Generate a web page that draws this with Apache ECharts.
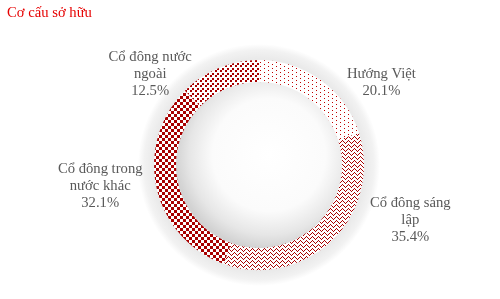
<!DOCTYPE html>
<html><head><meta charset="utf-8">
<script src="https://cdn.jsdelivr.net/npm/echarts@6/dist/echarts.min.js"></script>
<style>html,body{margin:0;padding:0;background:#fff}#c{width:500px;height:299px}</style>
</head><body><div id="c"></div>
<script>
const chartTitle = 'Cơ cấu sở hữu';
const categories = ['Hướng Việt', 'Cổ đông sáng lập', 'Cổ đông trong nước khác', 'Cổ đông nước ngoài'];
const values = [20.1, 35.4, 32.1, 12.5];

const RED = '#a80000';
const FONT = 'Liberation Serif';
const LABEL_SIZE = 14.67;
const labelDx = [1, 13, 11, -2];
const labelDy = [2, -20, -2, 6];

function makePattern(w, h, draw) {
  const c = document.createElement('canvas');
  c.width = w; c.height = h;
  const ctx = c.getContext('2d');
  ctx.fillStyle = '#ffffff'; ctx.fillRect(0, 0, w, h);
  ctx.fillStyle = RED;
  draw(ctx);
  return c;
}
const patDots = makePattern(8, 4, ctx => { ctx.fillStyle = '#c00000'; ctx.fillRect(0, 0, 1, 1); ctx.fillRect(4, 2, 1, 1); });
const patZig = makePattern(6, 4, ctx => { [0, 1, 2, 3, 2, 1].forEach((y, x) => ctx.fillRect(x, y, 1, 1)); });
const patBigChk = makePattern(6, 6, ctx => { ctx.fillRect(0, 0, 3, 3); ctx.fillRect(3, 3, 3, 3); });
const patSmallChk = makePattern(5, 5, ctx => { ctx.fillRect(0, 0, 2, 2); ctx.fillRect(2, 3, 2, 2); });
const patterns = [patDots, patZig, patBigChk, patSmallChk];

const measure = document.createElement('canvas').getContext('2d');
measure.font = LABEL_SIZE + 'px "' + FONT + '"';
function wrap(text, maxW) {
  const words = text.split(' ');
  const lines = [];
  let cur = '';
  words.forEach(w => {
    const t = cur ? cur + ' ' + w : w;
    if (cur && measure.measureText(t).width > maxW) { lines.push(cur); cur = w; }
    else cur = t;
  });
  if (cur) lines.push(cur);
  return lines;
}

const CX = 259, CY = 165;
const chart = echarts.init(document.getElementById('c'), null, { renderer: 'canvas' });
chart.setOption({
  animation: false,
  backgroundColor: '#ffffff',
  title: {
    text: chartTitle, left: 2, top: 1,
    textStyle: { fontFamily: FONT, fontSize: 14.67, fontWeight: 'normal', color: '#e60000' }
  },
  series: [
    {
      type: 'pie', silent: true, center: [CX, CY], radius: [100, 121],
      label: { show: false }, labelLine: { show: false },
      data: [{ value: 1, itemStyle: { color: {
        type: 'radial', x: 0.5, y: 0.5, r: 0.5,
        colorStops: [
          { offset: 0, color: '#ffffff' },
          { offset: 0.8, color: '#e8e8e8' },
          { offset: 0.88, color: '#eaeaea' },
          { offset: 0.95, color: '#f2f2f2' },
          { offset: 1, color: '#ffffff' }
        ] } } }]
    },
    {
      type: 'pie', silent: true, center: [CX, CY], radius: [0, 84],
      label: { show: false }, labelLine: { show: false },
      data: [{ value: 1, itemStyle: { color: {
        type: 'radial', x: 0.56, y: 0.44, r: 0.56,
        colorStops: [
          { offset: 0, color: '#ffffff' },
          { offset: 0.6, color: '#fbfbfb' },
          { offset: 0.85, color: '#e6e6e6' },
          { offset: 1, color: '#d2d2d2' }
        ] } } }]
    },
    {
      type: 'pie', center: [CX, CY], radius: [83, 105],
      startAngle: 90, clockwise: true, avoidLabelOverlap: false,
      itemStyle: { borderWidth: 0 },
      label: {
        show: true, position: 'outside',
        fontFamily: FONT, fontSize: LABEL_SIZE, color: '#595959', lineHeight: 17,
        formatter: p => {
          const lines = wrap(p.name, 95);
          lines.push(p.value.toFixed(1) + '%');
          return lines.map(l => '{c|' + l + '}').join('\n');
        },
        rich: { c: { align: 'center', fontFamily: FONT, fontSize: LABEL_SIZE, color: '#595959', lineHeight: 17 } }
      },
      labelLine: { show: false, length: 0, length2: 20 },
      labelLayout: p => ({ dx: labelDx[p.dataIndex], dy: labelDy[p.dataIndex] }),
      emphasis: { disabled: true },
      data: categories.map((n, i) => ({
        name: n, value: values[i],
        itemStyle: { color: { image: patterns[i], repeat: 'repeat' } }
      }))
    }
  ]
});
</script>
</body></html>
